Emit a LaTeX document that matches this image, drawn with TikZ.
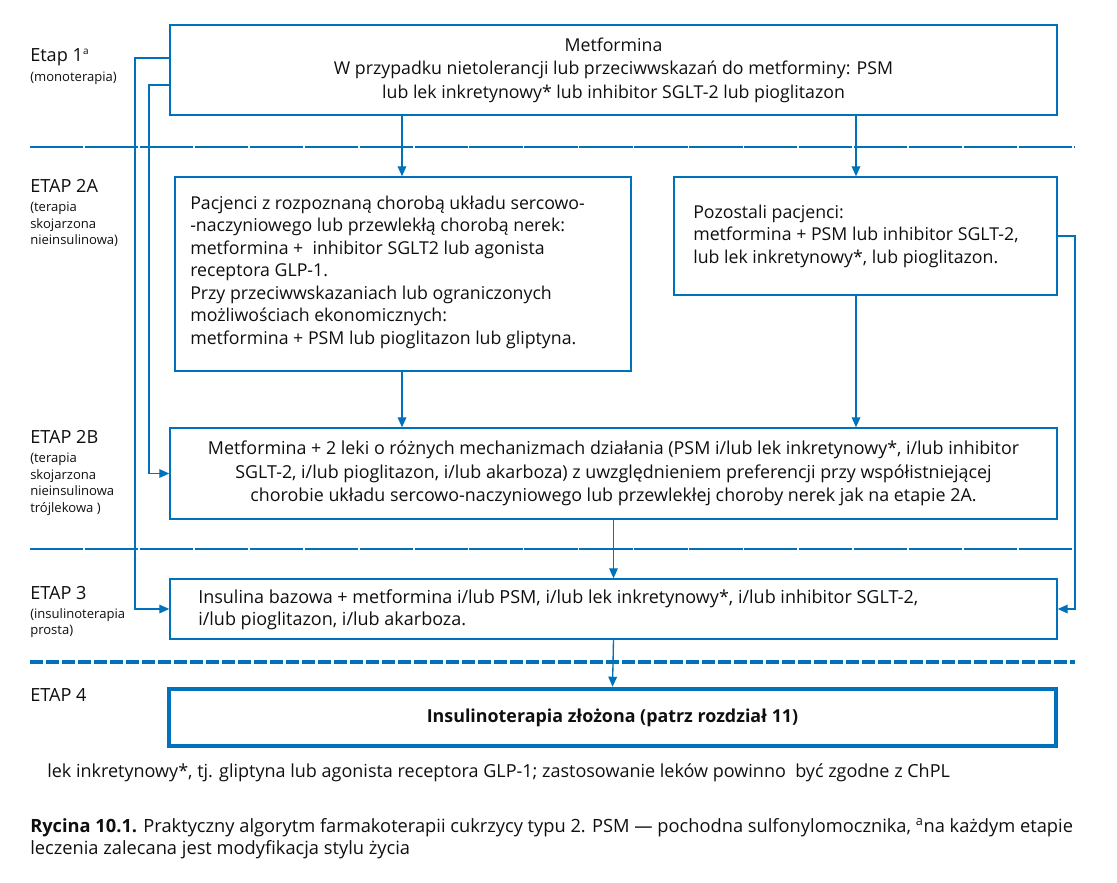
\documentclass[tikz,border=0pt]{standalone}
\usepackage{fontspec}
\setmainfont{Open Sans}
\usetikzlibrary{arrows.meta}
\definecolor{bl}{RGB}{0,114,188}
\definecolor{tx}{RGB}{15,15,15}
\tikzset{
  box/.style={draw=bl, line width=1.1pt, inner sep=0pt, text=tx},
  bigbox/.style={draw=bl, line width=3.4pt, inner sep=0pt, text=tx},
  arr/.style={draw=bl, line width=1pt, -{Triangle[width=6.5pt,length=7.5pt]}},
  sepline/.style={draw=bl, line width=0.85pt, dash pattern=on 40pt off 1.2pt},
  thickdash/.style={draw=bl, line width=2.4pt, dash pattern=on 9.75pt off 2.25pt},
  lbl/.style={anchor=west, inner sep=0pt, text=tx, font=\fontsize{13.6}{15}\selectfont},
  sublbl/.style={anchor=north west, inner sep=0pt, align=left, text=tx, font=\fontsize{9.8}{12.4}\selectfont},
  boxtext/.style={inner sep=0pt, align=left, text=tx, font=\fontsize{13.3}{16.9}\selectfont},
}
\begin{document}
\begin{tikzpicture}[x=0.75pt,y=-0.75pt]
\useasboundingbox (0,0) rectangle (1117,882);

% boxes
\node[box, minimum width=887*0.75pt, minimum height=90*0.75pt, align=center,
      font=\fontsize{13.3}{17.6}\selectfont] (b1) at (613.5,70)
  {Metformina\\W przypadku nietolerancji lub przeciwwskazań do metforminy: PSM\\lub lek inkretynowy* lub inhibitor SGLT-2 lub pioglitazon};
\node[box, minimum width=456*0.75pt, minimum height=194*0.75pt] (b2a) at (403,274) {};
\node[box, minimum width=383*0.75pt, minimum height=118*0.75pt] (b2r) at (865.5,236) {};
\node[box, minimum width=887*0.75pt, minimum height=91*0.75pt, align=center,
      font=\fontsize{13.4}{17.6}\selectfont] (b2B) at (613.5,473.5)
  {Metformina + 2 leki o różnych mechanizmach działania (PSM i/lub lek inkretynowy*, i/lub inhibitor\\
   SGLT-2, i/lub pioglitazon, i/lub akarboza) z uwzględnieniem preferencji przy współistniejącej\\
   chorobie układu sercowo-naczyniowego lub przewlekłej choroby nerek jak na etapie 2A.};
\node[box, minimum width=887*0.75pt, minimum height=60*0.75pt] (b3) at (613.5,609) {};
\node[bigbox, minimum width=887*0.75pt, minimum height=57*0.75pt,
      font=\bfseries\fontsize{13.4}{15}\selectfont] (b4) at (612.5,717.5)
  {Insulinoterapia złożona (patrz rozdział 11)};

% box texts
\node[boxtext, anchor=west] (t2a) at (190,272)
  {Pacjenci z rozpoznaną chorobą układu sercowo-\\
   -naczyniowego lub przewlekłą chorobą nerek:\\
   metformina +\ \ inhibitor SGLT2 lub agonista\\
   receptora GLP-1.\\
   Przy przeciwwskazaniach lub ograniczonych\\
   możliwościach ekonomicznych:\\
   metformina + PSM lub pioglitazon lub gliptyna.};
\node[boxtext, anchor=west] (t2r) at (693,236)
  {Pozostali pacjenci:\\
   metformina + PSM lub inhibitor SGLT-2,\\
   lub lek inkretynowy*, lub pioglitazon.};
\node[boxtext, anchor=west, font=\fontsize{13.5}{16.5}\selectfont] (t3) at (198,610)
  {Insulina bazowa + metformina i/lub PSM, i/lub lek inkretynowy*, i/lub inhibitor SGLT-2,\\
   i/lub pioglitazon, i/lub akarboza.};

% separators
\coordinate (s1a) at (30,147);  \coordinate (s1b) at (1075,147);
\coordinate (s2a) at (30,549);  \coordinate (s2b) at (1075,549);
\coordinate (s3a) at (30,662);  \coordinate (s3b) at (1075,662);
\draw[sepline] (s1a) -- (s1b);
\draw[sepline] (s2a) -- (s2b);
\draw[thickdash] (s3a) -- (s3b);

% stage labels
\node[lbl] (e1) at (30,57) {Etap 1\textsuperscript{\fontsize{7.5}{8}\selectfont a}};
\node[sublbl] (e1s) at (30,72) {(monoterapia)};
\node[lbl] (e2a) at (30,186) {ETAP 2A};
\node[sublbl] (e2as) at (30,202) {(terapia\\skojarzona\\nieinsulinowa)};
\node[lbl] (e2b) at (30,437) {ETAP 2B};
\node[sublbl] (e2bs) at (30,453) {(terapia\\skojarzona\\nieinsulinowa\\trójlekowa )};
\node[lbl] (e3) at (30,593) {ETAP 3};
\node[sublbl] (e3s) at (30,608) {(insulinoterapia\\prosta)};
\node[lbl] (e4) at (30,695) {ETAP 4};

% vertical arrows
\coordinate (c1) at (402,115);
\coordinate (c2) at (856,115);
\draw[arr] (c1) -- (c1 |- b2a.north);
\draw[arr] (c2) -- (c2 |- b2r.north);
\draw[arr] (b2a.south -| c1) -- (c1 |- b2B.north);
\draw[arr] (b2r.south -| c2) -- (c2 |- b2B.north);
\draw[arr] (b2B.south) -- (b3.north);
\draw[arr] (b3.south) -- (b4.north);

% side connectors
\coordinate (l1) at (170,58);
\coordinate (l2) at (170,85);
\draw[arr] (l1) -- (135,58) -- (135,609) -- (b3.west);
\draw[arr] (l2) -- (149,85) -- (149,473.5) -- (b2B.west);
\draw[arr] (b2r.east) -- (1075,236) -- (1075,609) -- (b3.east);

% footnote and caption
\node[anchor=west, inner sep=0pt, text=tx, font=\fontsize{13.5}{15}\selectfont] (fn) at (47,773)
  {lek inkretynowy*, tj. gliptyna lub agonista receptora GLP-1; zastosowanie leków powinno\ \ być zgodne z ChPL};
\node[anchor=west, inner sep=0pt, align=left, text=tx, font=\fontsize{13.7}{16.5}\selectfont] (cap) at (30,839)
  {\textbf{Rycina 10.1.} Praktyczny algorytm farmakoterapii cukrzycy typu 2. PSM — pochodna sulfonylomocznika, \textsuperscript{a}na każdym etapie\\
   leczenia zalecana jest modyfikacja stylu życia};
\end{tikzpicture}
\end{document}
